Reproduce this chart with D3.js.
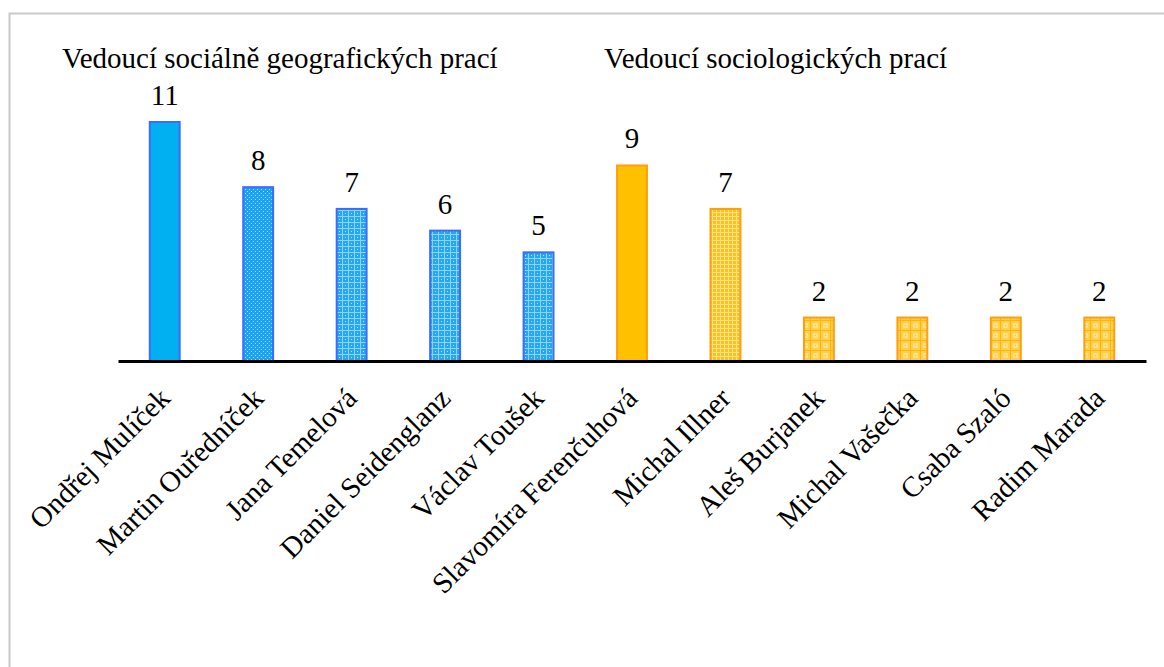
<!DOCTYPE html>
<html>
<head>
<meta charset="utf-8">
<script src="https://cdn.jsdelivr.net/npm/d3@7"></script>
<style>
    body { margin: 0; background: #fff; }
    text { font-family: "Liberation Serif", "Times New Roman", serif; fill: #000; }
</style>
</head>
<body>
<svg id="chart" width="1164" height="667"></svg>
<script>
// data
var names = ["Ondřej Mulíček", "Martin Ouředníček", "Jana Temelová", "Daniel Seidenglanz",
    "Václav Toušek", "Slavomíra Ferenčuhová", "Michal Illner", "Aleš Burjanek",
    "Michal Vašečka", "Csaba Szaló", "Radim Marada"];
var values = [11, 8, 7, 6, 5, 9, 7, 2, 2, 2, 2];
var groups = ["geo", "geo", "geo", "geo", "geo", "soc", "soc", "soc", "soc", "soc", "soc"];
var fills = ["solidBlue", "blueDots", "blueGrid", "blueGrid", "blueGrid",
    "solidOrange", "orangeFine", "orangeCheck", "orangeCheck", "orangeCheck", "orangeCheck"];
var groupTitles = ["Vedoucí sociálně geografických prací", "Vedoucí sociologických prací"];

var width = 1164,
    height = 667,
    x0 = 118, x1 = 1146,
    baseY = 361, topY = 122;

var svg = d3.select("#chart");

// outer frame (runs off the right / bottom edge)
svg.append("rect")
    .attr("x", 9.5).attr("y", 13.5)
    .attr("width", 1300).attr("height", 800)
    .attr("fill", "none")
    .attr("stroke", "#c9c9c9")
    .attr("stroke-width", 2);

var defs = svg.append("defs");

function pattern(id, size, base, draw) {
    var p = defs.append("pattern")
        .attr("id", id)
        .attr("patternUnits", "userSpaceOnUse")
        .attr("width", size).attr("height", size);
    p.append("rect").attr("width", size).attr("height", size).attr("fill", base);
    draw(p);
}

pattern("blueDots", 4, "#1aa3f0", function (p) {
    p.append("rect").attr("x", 1).attr("y", 1).attr("width", 1).attr("height", 1).attr("fill", "#9fdcfb");
    p.append("rect").attr("x", 3).attr("y", 3).attr("width", 1).attr("height", 1).attr("fill", "#9fdcfb");
});
pattern("blueGrid", 6, "#25a8f0", function (p) {
    p.append("rect").attr("width", 6).attr("height", 1).attr("fill", "#8fd3f8");
    p.append("rect").attr("width", 1).attr("height", 6).attr("fill", "#8fd3f8");
    p.append("rect").attr("x", 3).attr("y", 3).attr("width", 1).attr("height", 1).attr("fill", "#b8e6fc");
});
pattern("orangeFine", 4, "#ffc21a", function (p) {
    p.append("rect").attr("width", 4).attr("height", 1).attr("fill", "#ffe08a");
    p.append("rect").attr("width", 1).attr("height", 4).attr("fill", "#ffe08a");
});
pattern("orangeCheck", 10, "#ffd04d", function (p) {
    p.append("rect").attr("width", 10).attr("height", 1).attr("fill", "#ffb800");
    p.append("rect").attr("width", 1).attr("height", 10).attr("fill", "#ffb800");
    p.append("rect").attr("x", 3).attr("y", 3).attr("width", 5).attr("height", 5).attr("fill", "#ffe08a");
    p.append("rect").attr("x", 5).attr("y", 5).attr("width", 1).attr("height", 1).attr("fill", "#ffc21a");
});

var solid = {solidBlue: "#00b0f0", solidOrange: "#ffc000"};
var strokes = {geo: "#3a6cff", soc: "#ff9e0f"};

var xScale = d3.scaleBand()
    .domain(names)
    .range([x0, x1])
    .paddingInner(0.68)
    .paddingOuter(0.34);

var yScale = d3.scaleLinear()
    .domain([0, d3.max(values)])
    .range([baseY, topY]);

var data = names.map(function (n, i) {
    return {name: n, value: values[i], group: groups[i], fill: fills[i]};
});

var g = svg.append("g");

g.selectAll("rect.bar")
    .data(data)
    .enter().append("rect")
    .attr("class", "bar")
    .attr("x", function (d) { return xScale(d.name); })
    .attr("y", function (d) { return yScale(d.value); })
    .attr("width", xScale.bandwidth())
    .attr("height", function (d) { return baseY - yScale(d.value); })
    .attr("fill", function (d) { return solid[d.fill] || "url(#" + d.fill + ")"; })
    .attr("stroke", function (d) { return strokes[d.group]; })
    .attr("stroke-width", 2);

// value labels
g.selectAll("text.value")
    .data(data)
    .enter().append("text")
    .attr("class", "value")
    .attr("x", function (d) { return xScale(d.name) + xScale.bandwidth() / 2; })
    .attr("y", function (d) { return yScale(d.value) - 17; })
    .attr("text-anchor", "middle")
    .style("font-size", "29px")
    .text(function (d) { return d.value; });

// x axis
var xAxis = d3.axisBottom(xScale).tickSize(0).tickSizeOuter(0).tickPadding(0);
var xAxisG = svg.append("g")
    .attr("transform", "translate(0," + baseY + ")")
    .call(xAxis);
xAxisG.select(".domain")
    .attr("stroke", "#000")
    .attr("stroke-width", 3);
xAxisG.selectAll(".tick text")
    .attr("x", 0).attr("y", 0).attr("dy", 0)
    .attr("text-anchor", "end")
    .attr("transform", "translate(7,39) rotate(-45)")
    .style("font-family", "'Liberation Serif', 'Times New Roman', serif")
    .style("font-size", "29px")
    .attr("fill", "#000");

// group titles
svg.selectAll("text.title")
    .data(groupTitles)
    .enter().append("text")
    .attr("class", "title")
    .attr("x", function (d, i) { return i === 0 ? 62 : 604; })
    .attr("y", 68)
    .style("font-size", "29px")
    .text(function (d) { return d; });
</script>
</body>
</html>
